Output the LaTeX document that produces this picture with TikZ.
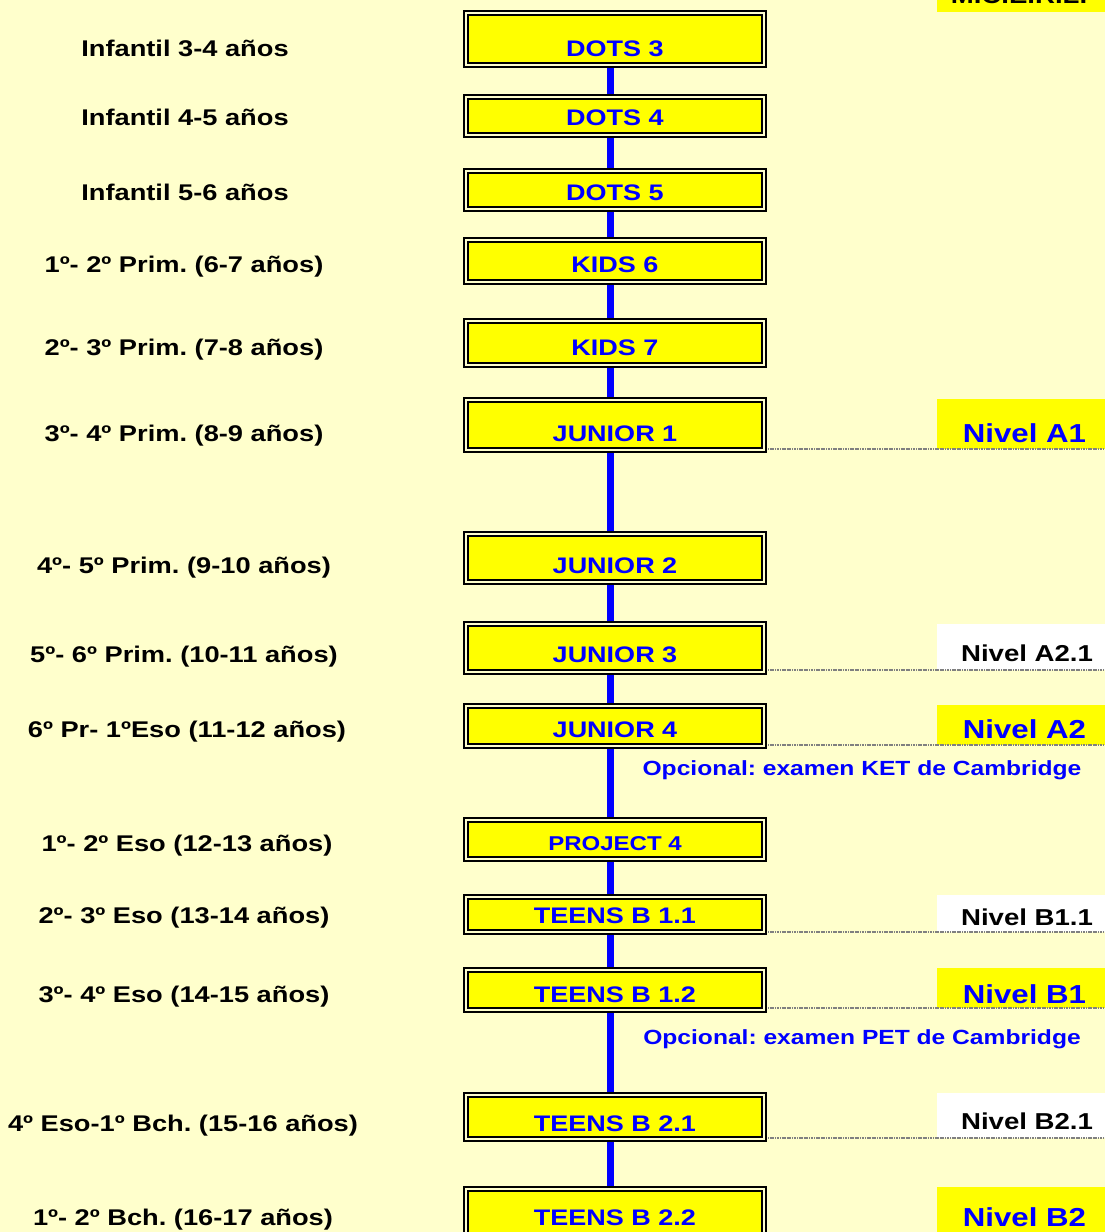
\documentclass[tikz,border=0pt]{standalone}
\usepackage{fontspec}
\setmainfont{Liberation Sans}[FakeStretch=1.2]
\usetikzlibrary{backgrounds,positioning}
\definecolor{papel}{RGB}{255,255,204}
\definecolor{amarillo}{RGB}{255,255,0}
\definecolor{azul}{RGB}{0,0,255}
\frenchspacing
\tikzset{
  curso/.style={draw=black, line width=2.3pt, double=papel, double distance=1.6pt,
    fill=amarillo, minimum width=297.7pt, inner sep=0pt, text height=24.2pt,
    text depth=0pt, text=azul, font=\fontsize{22.5}{24}\selectfont\bfseries},
  baja/.style={text height=#1},
  edad/.style={anchor=base, inner sep=0pt, font=\fontsize{22.7}{25}\selectfont\bfseries},
  nivel/.style={fill=amarillo, minimum width=168pt, inner ysep=0pt, inner xsep=19pt,
    text width=130pt, align=right, text height=30.7pt,
    text depth=0pt, text=azul, font=\fontsize{26}{28}\selectfont\bfseries},
  subnivel/.style={nivel, fill=white, text=black, text height=28.6pt,
    inner xsep=12pt, text width=144pt, font=\fontsize{23}{25}\selectfont\bfseries},
  opcional/.style={anchor=base, inner sep=0pt, text=azul,
    font=\fontsize{20.5}{22}\selectfont\bfseries},
  tramo/.style={draw=azul, line width=7pt},
  raya/.style={draw=black!50, line width=2.4pt, dash pattern=on 1.2pt off 0.5pt, shorten <=3pt},
}

\begin{document}
\begin{tikzpicture}[x=1pt, y=-1pt]
    \useasboundingbox (0,0) rectangle (1105,1232);
    \begin{scope}[on background layer]
        \fill[papel] (0,0) rectangle (1105,1232);
    \end{scope}

    % cabecera cortada
    \fill[amarillo] (937,-20) rectangle (1105,12);
    \node[anchor=base, inner sep=0pt, font=\fontsize{23}{25}\selectfont\bfseries] (mcerl) at (1019,3) {M.C.E.R.L.};

    % cursos
    \node[curso, minimum height=51.7pt, baja=34.2pt] (dots3) at (615,39) {DOTS 3};
    \node[curso, minimum height=37.7pt, baja=18.2pt] (dots4) at (615,116) {DOTS 4};
    \node[curso, minimum height=37.7pt, baja=20.2pt] (dots5) at (615,190) {DOTS 5};
    \node[curso, minimum height=41.7pt, baja=22.2pt] (kids6) at (615,261) {KIDS 6};
    \node[curso, minimum height=43.7pt, baja=24.2pt] (kids7) at (615,343) {KIDS 7};
    \node[curso, minimum height=49.7pt, baja=32.2pt] (junior1) at (615,425) {JUNIOR 1};
    \node[curso, minimum height=47.7pt, baja=30.2pt] (junior2) at (615,558) {JUNIOR 2};
    \node[curso, minimum height=47.7pt, baja=28.2pt] (junior3) at (615,648) {JUNIOR 3};
    \node[curso, minimum height=39.7pt, baja=22.2pt] (junior4) at (615,726) {JUNIOR 4};
    \node[curso, minimum height=38.7pt, baja=21.4pt,
          font=\fontsize{20}{22}\selectfont\bfseries] (project4) at (615,839.5) {PROJECT 4};
    \node[curso, minimum height=34.7pt, baja=17.2pt] (teens11) at (615,914.5) {TEENS B 1.1};
    \node[curso, minimum height=39.7pt, baja=24.2pt] (teens12) at (615,990) {TEENS B 1.2};
    \node[curso, minimum height=43.7pt, baja=28.2pt] (teens21) at (615,1117) {TEENS B 2.1};
    \node[curso, minimum height=49.7pt, baja=22.2pt] (teens22) at (615,1214) {TEENS B 2.2};

    % edades
    \node[edad] (edad1) at (185,56) {Infantil 3-4 años};
    \node[edad] (edad2) at (185,125) {Infantil 4-5 años};
    \node[edad] (edad3) at (185,200) {Infantil 5-6 años};
    \node[edad] (edad4) at (184,272) {1º- 2º Prim. (6-7 años)};
    \node[edad] (edad5) at (184,355) {2º- 3º Prim. (7-8 años)};
    \node[edad] (edad6) at (184,441) {3º- 4º Prim. (8-9 años)};
    \node[edad] (edad7) at (184,573) {4º- 5º Prim. (9-10 años)};
    \node[edad] (edad8) at (184,662) {5º- 6º Prim. (10-11 años)};
    \node[edad] (edad9) at (187,737) {6º Pr- 1ºEso (11-12 años)};
    \node[edad] (edad10) at (187,851) {1º- 2º Eso (12-13 años)};
    \node[edad] (edad11) at (184,923) {2º- 3º Eso (13-14 años)};
    \node[edad] (edad12) at (184,1002) {3º- 4º Eso (14-15 años)};
    \node[edad] (edad13) at (183,1131) {4º Eso-1º Bch. (15-16 años)};
    \node[edad] (edad14) at (183,1225) {1º- 2º Bch. (16-17 años)};

    % niveles
    \node[nivel, minimum height=50pt, baja=36.7pt] (nivA1) at (1021,424) {Nivel A1};
    \node[subnivel, minimum height=46pt] (nivA21) at (1021,647) {Nivel A2.1};
    \node[nivel, minimum height=40pt, baja=26.7pt] (nivA2) at (1021,725) {Nivel A2};
    \node[subnivel, minimum height=37pt, baja=23pt] (nivB11) at (1021,913.5) {Nivel B1.1};
    \node[nivel, minimum height=40pt] (nivB1) at (1021,988) {Nivel B1};
    \node[subnivel, minimum height=45pt] (nivB21) at (1021,1115.5) {Nivel B2.1};
    \node[nivel, minimum height=45pt, baja=34.7pt] (nivB2) at (1021,1209.5) {Nivel B2};

    \node[opcional] (ket) at (862,775) {Opcional: examen KET de Cambridge};
    \node[opcional] (pet) at (862,1044) {Opcional: examen PET de Cambridge};

    % rayas hasta el nivel
    \draw[raya] (junior1.east |- nivA1.south) -- (nivA1.south east);
    \draw[raya] (junior3.east |- nivA21.south) -- (nivA21.south east);
    \draw[raya] (junior4.east |- nivA2.south) -- (nivA2.south east);
    \draw[raya] (teens11.east |- nivB11.south) -- (nivB11.south east);
    \draw[raya] (teens12.east |- nivB1.south) -- (nivB1.south east);
    \draw[raya] (teens21.east |- nivB21.south) -- (nivB21.south east);

    % linea azul
    \begin{scope}[on background layer]
    \foreach \a/\b in {dots3/dots4, dots4/dots5, dots5/kids6, kids6/kids7, kids7/junior1,
        junior1/junior2, junior2/junior3, junior3/junior4, junior4/project4,
        project4/teens11, teens11/teens12, teens12/teens21, teens21/teens22}
        \draw[tramo] ([xshift=-5pt]\a.south) -- ([xshift=-5pt]\b.north);
    \end{scope}
\end{tikzpicture}
\end{document}
